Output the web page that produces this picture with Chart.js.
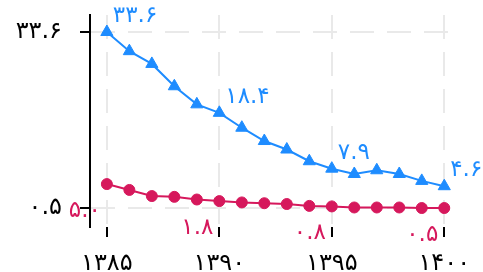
<!DOCTYPE html>
<html>
<head>
<meta charset="utf-8">
<script src="https://cdn.jsdelivr.net/npm/chart.js@4/dist/chart.umd.min.js"></script>
<style>
html,body{margin:0;padding:0;background:#fff;}
#wrap{width:483px;height:272px;position:relative;}
</style>
</head>
<body>
<div id="wrap"><canvas id="c" width="483" height="272"></canvas></div>
<script>
// ---- data ----
const years = [1385,1386,1387,1388,1389,1390,1391,1392,1393,1394,1395,1396,1397,1398,1399,1400];
const blueValues = [33.6,30.0,27.6,23.4,20.0,18.4,15.6,13.1,11.5,9.3,7.9,6.9,7.6,6.9,5.6,4.6];
const redValues  = [5.0,3.9,2.75,2.6,2.1,1.8,1.55,1.4,1.25,0.9,0.8,0.6,0.6,0.6,0.5,0.5];
const xTickValues = [1385,1390,1395,1400];
const xTickLabels = ['۱۳۸۵','۱۳۹۰','۱۳۹۵','۱۴۰۰'];
const yTickValues = [0.5,33.6];
const yTickLabels = ['۰.۵','۳۳.۶'];
const labelIndexes = [0,5,10,15];

const BLUE = '#1e8cff';
const RED = '#d6185c';
const FONT = "'DejaVu Sans', sans-serif";
const FS = 24;

function fa(s){ return String(s).replace(/[0-9]/g, d => '۰۱۲۳۴۵۶۷۸۹'[+d]); }

const valueLabels = {
  id:'valueLabels',
  afterDatasetsDraw(chart){
    const ctx = chart.ctx;
    const xs = chart.scales.x, ys = chart.scales.y;
    ctx.save();
    ctx.font = (FS-1) + 'px ' + FONT;
    ctx.textBaseline = 'middle';
    labelIndexes.forEach(i => {
      const x = xs.getPixelForValue(years[i]);
      ctx.fillStyle = BLUE;
      ctx.textAlign = 'left';
      ctx.fillText(fa(blueValues[i].toFixed(1)), x + 6, ys.getPixelForValue(blueValues[i]) - 16);
      ctx.fillStyle = RED;
      ctx.textAlign = 'right';
      ctx.fillText(fa(redValues[i].toFixed(1)), x - 6, ys.getPixelForValue(redValues[i]) + 27);
    });
    ctx.restore();
  }
};

const toPts = vals => vals.map((v,i)=>({x:years[i], y:v}));

new Chart(document.getElementById('c'), {
  type:'line',
  data:{
    datasets:[
      {data:toPts(blueValues), borderColor:BLUE, backgroundColor:BLUE, borderWidth:2,
       pointStyle:'triangle', pointRadius:7, pointBorderWidth:1, pointBackgroundColor:BLUE, pointBorderColor:BLUE, clip:false},
      {data:toPts(redValues), borderColor:RED, backgroundColor:RED, borderWidth:2,
       pointStyle:'circle', pointRadius:5.5, pointBorderWidth:1, pointBackgroundColor:RED, pointBorderColor:RED, clip:false}
    ]
  },
  options:{
    responsive:false, animation:false,
    layout:{padding:{left:0, top:15, right:23, bottom:0}},
    plugins:{legend:{display:false}, tooltip:{enabled:false}},
    scales:{
      x:{type:'linear', min:1384.25, max:1400.7,
        afterBuildTicks(s){ s.ticks = xTickValues.map(v=>({value:v})); },
        afterFit(s){ s.height = 45; s.paddingLeft = 0; s.paddingRight = 0; },
        ticks:{font:{family:FONT,size:FS}, color:'#000', padding:12,
          callback:(v)=>xTickLabels[xTickValues.indexOf(v)], maxRotation:0, autoSkip:false},
        grid:{color:'#e9e9e9', lineWidth:2, tickColor:'#000', tickLength:10, tickWidth:2, drawTicks:true},
        border:{display:false, dash:[24,13], dashOffset:0}
      },
      y:{type:'linear', min:-3.07, max:36.8,
        afterBuildTicks(s){ s.ticks = yTickValues.map(v=>({value:v})); },
        afterFit(s){ s.width = 90; s.paddingTop = 0; s.paddingBottom = 0; },
        ticks:{font:{family:FONT,size:FS}, color:'#000', padding:18,
          callback:(v)=>yTickLabels[yTickValues.indexOf(v)], autoSkip:false},
        grid:{color:'#e9e9e9', lineWidth:2, tickColor:'#000', tickLength:10, tickWidth:2, drawTicks:true},
        border:{display:true, color:'#000', width:2, dash:[24,13], dashOffset:0}
      }
    }
  },
  plugins:[valueLabels]
});
</script>
</body>
</html>
